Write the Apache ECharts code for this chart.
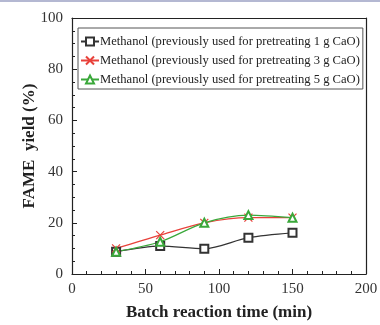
<!DOCTYPE html>
<html><head><meta charset="utf-8">
<script src="https://cdn.jsdelivr.net/npm/echarts@6/dist/echarts.min.js"></script>
<style>html,body{margin:0;padding:0;background:#fff}#c{width:380px;height:325px}</style>
</head><body><div id="c"></div>
<script>
const times = [30, 60, 90, 120, 150];
const yield1g = [8.7, 10.9, 9.9, 14.2, 16.1];
const yield3g = [10.0, 15.2, 20.0, 22.0, 22.0];
const yield5g = [8.7, 12.6, 20.0, 23.0, 22.0];
const seriesNames = [
  'Methanol (previously used for pretreating 1 g CaO)',
  'Methanol (previously used for pretreating 3 g CaO)',
  'Methanol (previously used for pretreating 5 g CaO)'
];
const xTitle = 'Batch reaction time (min)';
const yTitle = 'FAME  yield (%)';

const font = '"Liberation Serif", "DejaVu Serif", serif';
const crossPath = 'path://M0,0L10,10M10,0L0,10';
const pairs = arr => times.map((t, i) => [t, arr[i]]);
const frameAxis = {
  type: 'value', axisLine: {show: true, onZero: false, lineStyle: {color: '#222', width: 1.2}},
  axisTick: {show: false}, axisLabel: {show: false}, splitLine: {show: false}
};

const chart = echarts.init(document.getElementById('c'));
chart.setOption({
  animation: false,
  backgroundColor: '#fff',
  grid: {left: 72, top: 18, right: 14, bottom: 51, outerBoundsMode: 'none', containLabel: false},
  graphic: [{type: 'rect', shape: {x: 0, y: 0, width: 380, height: 2}, style: {fill: '#b4b8d2'}}],
  legend: {
    left: 78, top: 28, orient: 'vertical', itemGap: 6, itemWidth: 18, itemHeight: 10,
    borderColor: '#555', borderWidth: 1, padding: [7, 3, 3, 2],
    textStyle: {fontFamily: font, fontSize: 12.6, color: '#222', padding: [0,0,0,-4]},
    data: seriesNames
  },
  xAxis: [{
    type: 'value', min: 0, max: 200, interval: 50,
    axisLine: {lineStyle: {color: '#222', width: 1.2}},
    axisTick: {inside: true, length: 5, lineStyle: {color: '#222'}},
    minorTick: {show: true, splitNumber: 5, length: 3, lineStyle: {color: '#222'}},
    splitLine: {show: false},
    axisLabel: {fontFamily: font, fontSize: 15, color: '#333', margin: 8},
    name: xTitle, nameLocation: 'middle', nameGap: 30, nameMoveOverlap: false,
    nameTextStyle: {fontFamily: font, fontSize: 17, fontWeight: 'bold', color: '#222'}
  }, Object.assign({position: 'top', min: 0, max: 200}, frameAxis)],
  yAxis: [{
    type: 'value', min: 0, max: 100, interval: 20,
    axisLine: {show: true, lineStyle: {color: '#222', width: 1.2}},
    axisTick: {inside: true, length: 5, lineStyle: {color: '#222'}},
    minorTick: {show: true, splitNumber: 4, length: 3, lineStyle: {color: '#222'}},
    splitLine: {show: false},
    axisLabel: {fontFamily: font, fontSize: 15, color: '#333', margin: 9},
    name: yTitle, nameLocation: 'middle', nameGap: 34, nameMoveOverlap: false,
    nameTextStyle: {fontFamily: font, fontSize: 17, fontWeight: 'bold', color: '#222'}
  }, Object.assign({position: 'right', min: 0, max: 100}, frameAxis)],
  series: [
    {name: seriesNames[0], type: 'line', smooth: 0.3, data: pairs(yield1g),
     symbol: 'emptyRect', symbolSize: 8, color: '#333',
     lineStyle: {color: '#333', width: 1.3}, itemStyle: {color: '#333', borderWidth: 1.2}},
    {name: seriesNames[1], type: 'line', smooth: 0.3, data: pairs(yield3g),
     symbol: crossPath, symbolSize: 8, color: '#e8413a',
     lineStyle: {color: '#e8413a', width: 1.3}, itemStyle: {color: 'none', borderColor: '#e8413a', borderWidth: 1.2}},
    {name: seriesNames[2], type: 'line', smooth: 0.3, data: pairs(yield5g),
     symbol: 'emptyTriangle', symbolSize: 8, color: '#3aa83a',
     lineStyle: {color: '#3aa83a', width: 1.3}, itemStyle: {color: '#3aa83a', borderWidth: 1.2}}
  ]
});
</script></body></html>
